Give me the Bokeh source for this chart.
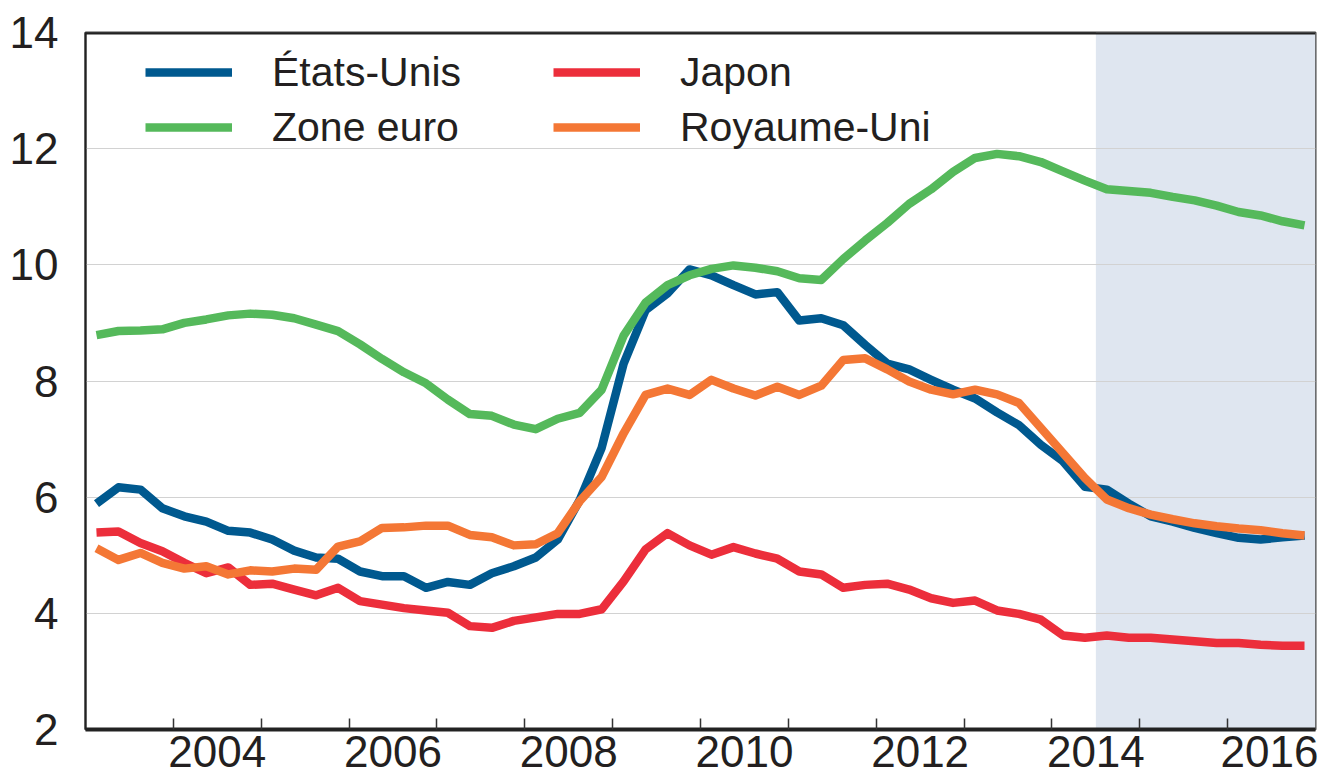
from bokeh.plotting import figure
from bokeh.models import (Range1d, FixedTicker, CustomJSTickFormatter, BoxAnnotation,
                          Span, Legend, LegendItem)
from bokeh.embed import file_html
from bokeh.resources import INLINE

# ---- data: quarterly, 2003Q1 .. 2016Q4 ----
start_year = 2003
n_quarters = 56
forecast_start = 2014.5

etats_unis = [5.89, 6.17, 6.13, 5.81, 5.67, 5.58, 5.42, 5.39, 5.27, 5.08,
              4.96, 4.94, 4.72, 4.64, 4.64, 4.44, 4.54, 4.49, 4.69, 4.81,
              4.96, 5.27, 5.95, 6.85, 8.30, 9.22, 9.51, 9.92, 9.82, 9.65,
              9.49, 9.53, 9.04, 9.08, 8.96, 8.62, 8.30, 8.20, 8.02, 7.85,
              7.70, 7.46, 7.24, 6.90, 6.62, 6.18, 6.13, 5.89, 5.67, 5.58,
              5.47, 5.38, 5.30, 5.27, 5.31, 5.34]
zone_euro = [8.79, 8.86, 8.87, 8.89, 9.00, 9.06, 9.13, 9.16, 9.14, 9.08,
             8.97, 8.86, 8.63, 8.38, 8.15, 7.96, 7.68, 7.43, 7.40, 7.25,
             7.17, 7.35, 7.45, 7.85, 8.78, 9.35, 9.65, 9.82, 9.93, 9.99,
             9.95, 9.89, 9.77, 9.74, 10.10, 10.42, 10.72, 11.05, 11.30, 11.60,
             11.84, 11.91, 11.87, 11.77, 11.61, 11.45, 11.30, 11.27, 11.24, 11.17,
             11.11, 11.02, 10.91, 10.85, 10.75, 10.68]
japon = [5.39, 5.41, 5.21, 5.07, 4.87, 4.69, 4.79, 4.49, 4.51, 4.41,
         4.31, 4.44, 4.21, 4.15, 4.09, 4.05, 4.01, 3.78, 3.75, 3.87,
         3.93, 3.99, 3.99, 4.07, 4.55, 5.10, 5.38, 5.17, 5.01, 5.14,
         5.03, 4.94, 4.72, 4.67, 4.44, 4.49, 4.51, 4.41, 4.26, 4.18,
         4.22, 4.05, 3.99, 3.89, 3.62, 3.58, 3.62, 3.58, 3.58, 3.55,
         3.52, 3.49, 3.49, 3.46, 3.44, 3.44]
royaume_uni = [5.12, 4.92, 5.04, 4.87, 4.77, 4.81, 4.67, 4.74, 4.72, 4.77,
               4.75, 5.15, 5.24, 5.47, 5.48, 5.51, 5.51, 5.35, 5.31, 5.17,
               5.19, 5.38, 5.93, 6.35, 7.10, 7.76, 7.87, 7.76, 8.02, 7.87,
               7.75, 7.90, 7.76, 7.92, 8.36, 8.39, 8.20, 7.99, 7.85, 7.77,
               7.85, 7.77, 7.62, 7.19, 6.76, 6.33, 5.96, 5.81, 5.70, 5.62,
               5.55, 5.50, 5.46, 5.43, 5.38, 5.34]

label_years = [2004, 2006, 2008, 2010, 2012, 2014, 2016]
tick_years = list(range(2004, 2017))
y_ticks = [2, 4, 6, 8, 10, 12, 14]

colors = {"États-Unis": "#00598f", "Zone euro": "#55b95b",
          "Japon": "#ec2e3b", "Royaume-Uni": "#f47735"}

# x position of each quarter (mid-quarter)
x = [start_year + (i // 4) + ((i % 4) + 0.5) / 4 for i in range(n_quarters)]

FONT = "Liberation Sans"
TXT = "#231f20"

p = figure(width=1318, height=778, x_range=Range1d(2003, 2017), y_range=Range1d(2, 14),
           output_backend="svg", toolbar_location=None,
           min_border_left=85, min_border_right=3, min_border_top=32, min_border_bottom=49)
p.background_fill_color = "white"
p.border_fill_color = "white"
p.outline_line_color = "#444444"
p.outline_line_width = 2

# forecast shading
p.add_layout(BoxAnnotation(left=forecast_start, right=2017, fill_color="#dfe6f0",
                           fill_alpha=1.0, line_color=None, level="image"))

# grid
p.xgrid.grid_line_color = None
p.ygrid.grid_line_color = "#d2d2d2"
p.ygrid.grid_line_width = 1
p.ygrid.ticker = FixedTicker(ticks=y_ticks)

# x axis: labels at mid-year, tick marks at year boundaries (minor ticks)
xa = p.xaxis[0]
xa.ticker = FixedTicker(ticks=[yr + 0.5 for yr in label_years], minor_ticks=tick_years)
xa.formatter = CustomJSTickFormatter(code="return Math.floor(tick).toString();")
xa.major_tick_line_color = None
xa.minor_tick_in = 11
xa.minor_tick_out = 0
xa.minor_tick_line_color = "#333333"
xa.minor_tick_line_width = 1.5
xa.axis_line_color = "#222222"
xa.axis_line_width = 4
xa.major_label_text_font = FONT
xa.major_label_text_font_size = "44px"
xa.major_label_text_color = TXT
xa.major_label_standoff = 0

ya = p.yaxis[0]
ya.ticker = FixedTicker(ticks=y_ticks)
ya.major_tick_line_color = None
ya.minor_tick_line_color = None
ya.axis_line_color = "#222222"
ya.axis_line_width = 2
ya.major_label_text_font = FONT
ya.major_label_text_font_size = "44px"
ya.major_label_text_color = TXT
ya.major_label_standoff = 21

# top border
p.add_layout(Span(location=14, dimension="width", line_color="#222222", line_width=4))

series = {"États-Unis": etats_unis, "Zone euro": zone_euro,
          "Japon": japon, "Royaume-Uni": royaume_uni}
renderers = {}
for name in ["États-Unis", "Japon", "Zone euro", "Royaume-Uni"]:
    renderers[name] = p.line(x, series[name], line_color=colors[name], line_width=8.5,
                             line_join="round")


def make_legend(items, loc):
    lg = Legend(items=[LegendItem(label=n, renderers=[renderers[n]]) for n in items],
                location=loc, orientation="vertical")
    lg.background_fill_alpha = 0
    lg.border_line_color = None
    lg.padding = 0
    lg.margin = 0
    lg.spacing = 3
    lg.glyph_width = 87
    lg.glyph_height = 52
    lg.label_height = 52
    lg.label_standoff = 40
    lg.label_text_font = FONT
    lg.label_text_font_size = "41px"
    lg.label_text_color = TXT
    return lg


p.add_layout(make_legend(["États-Unis", "Zone euro"], (60, 576)))
p.add_layout(make_legend(["Japon", "Royaume-Uni"], (468, 576)))

open("out.html", "w").write(file_html(p, INLINE))
